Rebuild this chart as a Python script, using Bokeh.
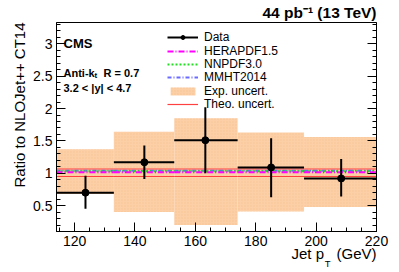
from bokeh.plotting import figure
from bokeh.models import (Range1d, LinearAxis, FixedTicker, CustomJSTickFormatter,
                          Label, Legend, LegendItem, Title)
from bokeh.embed import file_html
from bokeh.resources import INLINE

# ---- data ----
bin_lo = [114, 133, 153, 174, 196]
bin_hi = [133, 153, 174, 196, 220]
pt_x = [123.6, 143.1, 163.3, 185.1, 208.3]
ratio = [0.70, 1.17, 1.51, 1.09, 0.92]
err_lo = [0.45, 0.91, 1.00, 0.63, 0.64]
err_hi = [0.96, 1.43, 2.02, 1.54, 1.22]
exp_lo = [0.68, 0.40, 0.20, 0.41, 0.48]
exp_hi = [1.37, 1.64, 1.85, 1.63, 1.56]
hera = [1.015, 1.015, 1.015, 1.015, 1.015]
nnpdf = [1.03, 1.03, 1.03, 1.03, 1.03]
mmht = [1.04, 1.04, 1.04, 1.04, 1.04]
theo_hi = [1.066, 1.066, 1.066, 1.066, 1.066]
theo_lo = [0.95, 0.95, 0.95, 0.95, 0.95]
x_ticks = [120, 140, 160, 180, 200, 220]
y_ticks = [0.5, 1.0, 1.5, 2.0, 2.5, 3.0]

FONT = "Liberation Sans"

p = figure(width=399, height=272, output_backend="svg", toolbar_location=None,
           x_range=Range1d(114, 220), y_range=Range1d(0.1, 3.33),
           min_border_left=56, min_border_right=23, min_border_top=22,
           min_border_bottom=41)
p.grid.visible = False
p.outline_line_color = "black"
p.outline_line_width = 1
p.background_fill_color = "white"
p.border_fill_color = "white"

xt = FixedTicker(ticks=x_ticks, minor_ticks=[114 + i for i in range(1, 107) if (114 + i) % 5 == 0])
yt = FixedTicker(ticks=y_ticks, minor_ticks=[round(0.1 * i, 1) for i in range(1, 34)])
fmt = CustomJSTickFormatter(code="return String(Math.round(tick*10)/10)")

for ax in (p.xaxis[0], p.yaxis[0]):
    ax.axis_line_color = "black"
    ax.major_tick_line_color = "black"
    ax.minor_tick_line_color = "black"
    ax.major_tick_out = 0
    ax.minor_tick_out = 0
    ax.major_label_text_font = FONT
    ax.major_label_text_font_size = "14px"
    ax.major_label_text_color = "black"
    ax.major_label_standoff = 4
p.xaxis[0].ticker = xt
p.xaxis[0].formatter = fmt
p.xaxis[0].major_tick_in = 9
p.xaxis[0].minor_tick_in = 4
p.yaxis[0].ticker = yt
p.yaxis[0].formatter = fmt
p.yaxis[0].major_tick_in = 9
p.yaxis[0].minor_tick_in = 4

ry = LinearAxis(ticker=yt, formatter=CustomJSTickFormatter(code="return ''"),
                major_tick_in=9, minor_tick_in=4, major_tick_out=0, minor_tick_out=0,
                major_label_standoff=0, major_label_text_font_size="1px",
                axis_line_color="black")
p.add_layout(ry, "right")

# experimental uncertainty band
band = p.quad(left=bin_lo, right=bin_hi, bottom=exp_lo, top=exp_hi,
              fill_color="#fdcfa6", line_color=None,
              hatch_pattern="dot", hatch_color="#f7bd8c", hatch_scale=3, hatch_alpha=0.6)

# theory uncertainty
th1 = p.segment(x0=bin_lo, x1=bin_hi, y0=theo_hi, y1=theo_hi, line_color="#ff4040", line_width=1.2)
p.segment(x0=bin_lo, x1=bin_hi, y0=theo_lo, y1=theo_lo, line_color="#ff4040", line_width=1.2)

# PDF predictions
r_mmht = p.segment(x0=bin_lo, x1=bin_hi, y0=mmht, y1=mmht, line_color="#6a6aff",
                   line_width=2, line_dash="4 2 1 2")
r_nn = p.segment(x0=bin_lo, x1=bin_hi, y0=nnpdf, y1=nnpdf, line_color="#22dd22",
                 line_width=2, line_dash="2 2")
r_hera = p.segment(x0=bin_lo, x1=bin_hi, y0=hera, y1=hera, line_color="#ff00ff",
                   line_width=2, line_dash="6 2 1 2")

# data
r_h = p.segment(x0=bin_lo, x1=bin_hi, y0=ratio, y1=ratio, line_color="black", line_width=2)
p.segment(x0=pt_x, x1=pt_x, y0=err_lo, y1=err_hi, line_color="black", line_width=2)
r_pt = p.scatter(pt_x, ratio, size=7, color="black")

# legend: one entry per Legend so the rows can sit close together
entries = [("Data", [r_h, r_pt]), ("HERAPDF1.5", [r_hera]), ("NNPDF3.0", [r_nn]),
           ("MMHT2014", [r_mmht]), ("Exp. uncert.", [band]), ("Theo. uncert.", [th1])]
for i, (name, rends) in enumerate(entries):
    lg = Legend(items=[LegendItem(label=name, renderers=rends)],
                location=(111, 186.8 - 13.4 * i))
    lg.border_line_alpha = 0
    lg.background_fill_alpha = 0
    lg.padding = 0
    lg.margin = 0
    lg.spacing = 0
    lg.label_standoff = 6
    lg.glyph_width = 31
    lg.glyph_height = 10
    lg.label_height = 10
    lg.label_text_font = FONT
    lg.label_text_font_size = "12px"
    lg.label_text_color = "black"
    p.add_layout(lg)

# ---- texts inside the frame (screen units relative to the frame) ----
def lab(text, x, y, size, bold=False, align="left"):
    p.add_layout(Label(text=text, x=x, y=y, x_units="screen", y_units="screen",
                       text_font=FONT, text_font_size=size,
                       text_font_style="bold" if bold else "normal",
                       text_align=align, text_baseline="alphabetic",
                       text_color="black"))

lab("CMS", 7, 188, "13px", bold=True)
lab("Anti-k", 7, 159, "11px", bold=True)
lab("t", 38, 156, "8px", bold=True)
lab("R = 0.7", 47, 159, "11px", bold=True)
lab("3.2 < |y| < 4.7", 7, 144, "11px", bold=True)

# ---- texts outside the frame, as titles in the side panels ----
p.add_layout(Title(text="44 pb\u207b\u00b9 (13 TeV)", align="right", vertical_align="bottom",
                   standoff=3, text_font=FONT, text_font_size="15.5px",
                   text_font_style="bold", text_color="black"), "above")
p.add_layout(Title(text="Ratio to NLOJet++ CT14", align="right", vertical_align="bottom",
                   standoff=6, text_font=FONT, text_font_size="15px",
                   text_font_style="normal", text_color="black"), "left")
p.add_layout(Title(text="Jet p\u00a0\u00a0\u00a0(GeV)", align="right", vertical_align="top",
                   standoff=-8, text_font=FONT, text_font_size="15px",
                   text_font_style="normal", text_color="black"), "below")
p.add_layout(Title(text="T", align="right", vertical_align="top", offset=46,
                   standoff=-4, text_font=FONT, text_font_size="9.5px",
                   text_font_style="normal", text_color="black"), "below")

open("out.html", "w").write(file_html(p, INLINE))
